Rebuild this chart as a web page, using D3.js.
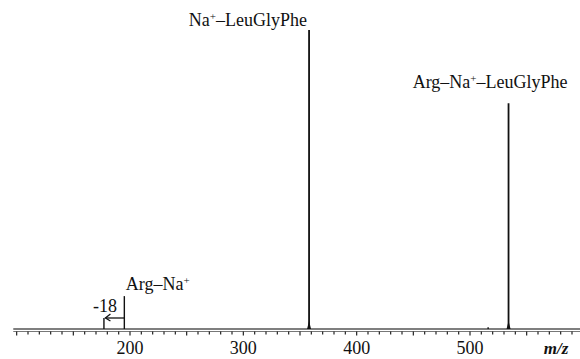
<!DOCTYPE html>
<meta charset="utf-8">
<head>
	<style>
		body { margin: 0; background: #fff; }
		text { font-family: "Liberation Serif", "Times New Roman", serif; fill: #111; }
	</style>
	<script src="https://cdn.jsdelivr.net/npm/d3@7/dist/d3.min.js"></script>
</head>
<body>
<script>

	// peaks: m/z and relative intensity (%)
	var peakMz        = [177, 195, 358, 516, 534],
	    peakIntensity = [3.7, 11,  100, 0.6, 75.5];

	// peak labels: which peak, text before and after the superscript "+"
	var labelMz    = [195, 358, 534],
	    labelMain  = ["Arg–Na", "Na", "Arg–Na"],
	    labelTail  = ["", "–LeuGlyPhe", "–LeuGlyPhe"];

	var tickValues = [200, 300, 400, 500],
	    axisStart = 97, axisEnd = 598;

	var width = 580, height = 359;

	var svg = d3.select("body").append("svg")
		.attr("width", width)
		.attr("height", height);

	var x = d3.scaleLinear().domain([200, 500]).range([130, 470]);
	var y = d3.scaleLinear().domain([0, 100]).range([329, 30]);

	// spectrum baseline
	svg.append("line")
		.attr("x1", x(axisStart)).attr("x2", x(axisEnd))
		.attr("y1", y(0)).attr("y2", y(0))
		.style("stroke", "#555").style("stroke-width", 1.6);

	// axis line with ticks
	var axisY = 331.5;
	svg.append("line")
		.attr("x1", x(axisStart)).attr("x2", x(axisEnd))
		.attr("y1", axisY).attr("y2", axisY)
		.style("stroke", "#777").style("stroke-width", 1);

	var ticks = d3.range(100, 600, 10);
	svg.append("g").selectAll("line")
		.data(ticks)
	  .enter().append("line")
		.attr("x1", function(d) {return x(d)})
		.attr("x2", function(d) {return x(d)})
		.attr("y1", axisY)
		.attr("y2", function(d) {return d % 50 == 0 ? axisY + 4 : axisY + 3})
		.style("stroke", "#222").style("stroke-width", 1.2);

	svg.append("g").selectAll("text")
		.data(tickValues)
	  .enter().append("text")
		.attr("x", function(d) {return x(d)})
		.attr("y", 354)
		.attr("text-anchor", "middle")
		.style("font-size", "18px")
		.text(function(d) {return d});

	svg.append("text")
		.attr("x", 556).attr("y", 354)
		.attr("text-anchor", "middle")
		.style("font-size", "17px")
		.style("font-style", "italic")
		.style("font-weight", "bold")
		.text("m/z");

	// peaks
	svg.append("g").selectAll("line")
		.data(peakMz)
	  .enter().append("line")
		.attr("x1", function(d) {return x(d)})
		.attr("x2", function(d) {return x(d)})
		.attr("y1", y(0))
		.attr("y2", function(d, i) {return y(peakIntensity[i])})
		.style("stroke", "#111")
		.style("stroke-width", function(d, i) {return peakIntensity[i] > 50 ? 1.8 : 1.4});

	// small base flare for the big peaks
	svg.append("g").selectAll("path")
		.data(peakMz.filter(function(d, i) {return peakIntensity[i] > 50}))
	  .enter().append("path")
		.attr("d", function(d) {
			return "M" + (x(d) - 2) + "," + y(0) + "L" + x(d) + "," + (y(0) - 8) + "L" + (x(d) + 2) + "," + y(0) + "Z";
		})
		.style("fill", "#111");

	// peak labels
	var labels = svg.append("g").selectAll("text")
		.data(labelMz)
	  .enter().append("text")
		.attr("x", function(d, i) {return [x(d) + 1.5, x(d) - 2, x(d) + 59][i]})
		.attr("y", function(d, i) {return [290, 26, 88][i]})
		.attr("text-anchor", function(d, i) {return i == 0 ? "start" : "end"})
		.style("font-size", "18px");

	labels.append("tspan").text(function(d, i) {return labelMain[i]});
	labels.append("tspan")
		.attr("dy", -6)
		.style("font-size", "11px")
		.text("+");
	labels.append("tspan")
		.attr("dy", 6)
		.text(function(d, i) {return labelTail[i]});

	// -18 loss arrow
	var arrowY = 318,
	    tipX = x(177) + 1.5;
	svg.append("line")
		.attr("x1", x(195)).attr("x2", tipX)
		.attr("y1", arrowY).attr("y2", arrowY)
		.style("stroke", "#111").style("stroke-width", 1.3);

	svg.append("path")
		.attr("d", "M" + (tipX + 5) + "," + (arrowY - 4) + "L" + tipX + "," + arrowY + "L" + (tipX + 5) + "," + (arrowY + 3))
		.style("fill", "none").style("stroke", "#111").style("stroke-width", 1.3);

	svg.append("text")
		.attr("x", x(177) - 11).attr("y", 312)
		.attr("text-anchor", "start")
		.style("font-size", "18px")
		.text("-18");

</script>
</body>
